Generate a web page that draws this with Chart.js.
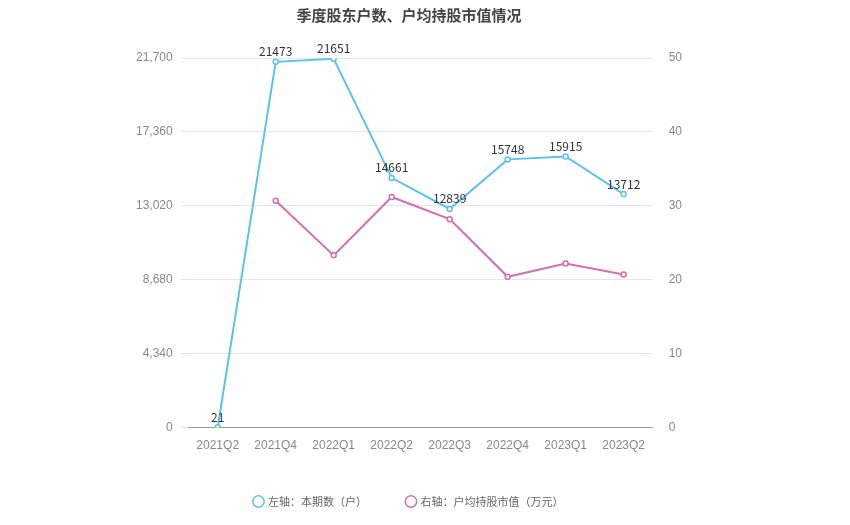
<!DOCTYPE html>
<html><head><meta charset="utf-8">
<script src="https://cdn.jsdelivr.net/npm/chart.js@4/dist/chart.umd.min.js"></script>
<style>body{margin:0;background:#fff}#w{width:850px;height:525px}</style></head>
<body><div id="w"><canvas id="c"></canvas></div>
<script>
const categories=['2021Q2','2021Q4','2022Q1','2022Q2','2022Q3','2022Q4','2023Q1','2023Q2'];
const holders=[21,21473,21651,14661,12839,15748,15915,13712];
const avgValue=[null,30.7,23.3,31.2,28.2,20.4,22.2,20.7];
const leftTicks=[0,4340,8680,13020,17360,21700];
const labelPlugin={id:'lbl',afterDatasetsDraw(ch){const ctx=ch.ctx;const m=ch.getDatasetMeta(0);ctx.save();ctx.font='12px "Noto Sans CJK SC", sans-serif';ctx.fillStyle='#333';ctx.textAlign='center';m.data.forEach((p,i)=>{ctx.fillText(holders[i],p.x,p.y-10);});ctx.restore();}};
new Chart(document.getElementById('c'),{type:'line',
data:{labels:categories,datasets:[
{label:'左轴：本期数（户）',data:holders,yAxisID:'y',borderColor:'#5bc2ee',backgroundColor:'#fff',pointBorderColor:'#5bc2ee',pointRadius:2.5,pointBorderWidth:1.5,borderWidth:2,tension:0},
{label:'右轴：户均持股市值（万元）',data:avgValue,yAxisID:'y1',borderColor:'#d36fb3',backgroundColor:'#fff',pointBorderColor:'#d36fb3',pointRadius:2.5,pointBorderWidth:1.5,borderWidth:2,tension:0}]},
options:{responsive:true,maintainAspectRatio:false,animation:false,
layout:{padding:{left:128,right:160,top:6,bottom:8}},
plugins:{title:{display:true,text:'季度股东户数、户均持股市值情况',font:{size:15,weight:'bold',family:'"Noto Sans CJK SC"'},color:'#444',padding:{bottom:34}},
legend:{position:'bottom',labels:{usePointStyle:true,pointStyle:'circle',boxWidth:8,boxHeight:8,color:'#666',font:{size:11,family:'"Noto Sans CJK SC"'},padding:40}},tooltip:{enabled:false}},
scales:{x:{offset:true,grid:{display:false},border:{color:'#999'},ticks:{color:'#888',font:{size:12}}},
y:{position:'left',min:0,max:21700,afterBuildTicks(a){a.ticks=leftTicks.map(v=>({value:v}));},ticks:{color:'#888',font:{size:12},padding:8,callback:v=>v.toLocaleString('en-US')},grid:{color:'#e6e6ee'},border:{display:false}},
y1:{position:'right',min:0,max:50,ticks:{stepSize:10,color:'#888',font:{size:12},padding:8},grid:{display:false},border:{display:false}}}},
plugins:[labelPlugin]});
</script></body></html>
